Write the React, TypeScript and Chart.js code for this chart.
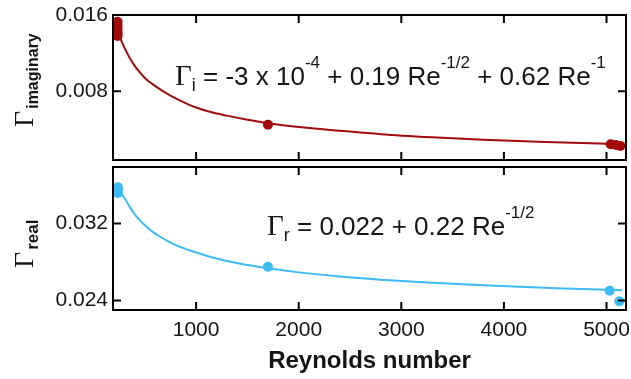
import React, { useEffect, useRef } from "react";
import { Chart, registerables } from "chart.js";

Chart.register(...registerables);

// ---- data ----
const X_TICKS = [1000, 2000, 3000, 4000, 5000];
const IMAG_TICKS = [0.008, 0.016];
const REAL_TICKS = [0.024, 0.032];

const IMAG_RE = [235, 235, 235, 235, 235, 1700, 5040, 5090, 5135];
const IMAG_VALUES = [0.0153, 0.0149, 0.0145, 0.0141, 0.0138, 0.0045, 0.00246, 0.00238, 0.00228];

const REAL_RE = [237, 237, 237, 237, 1700, 5030, 5125];
const REAL_VALUES = [0.0358, 0.0356, 0.0354, 0.0352, 0.0275, 0.025, 0.0239];

const FIT_RE = [250, 275, 300, 350, 400, 450, 500, 575, 650, 750, 850, 1000, 1150, 1300, 1500, 1700, 2000, 2400, 2800, 3300, 3800, 4400, 5000, 5150];
const IMAG_FIT = [0.0138, 0.0132, 0.0126, 0.01155, 0.0107, 0.01, 0.0094, 0.00875, 0.0082, 0.00755, 0.0070, 0.0063, 0.0058, 0.00545, 0.00503, 0.00465, 0.00426, 0.00387, 0.00351, 0.00318, 0.00291, 0.00268, 0.00251, 0.00247];
const REAL_FIT = [0.0355, 0.0351, 0.0347, 0.0338, 0.033, 0.03237, 0.03184, 0.03117, 0.03063, 0.03003, 0.02955, 0.029, 0.02849, 0.0281, 0.02768, 0.02734, 0.02692, 0.02649, 0.02616, 0.02583, 0.02557, 0.02532, 0.0251, 0.02507];

const RED = "#a30a0a";
const BLUE = "#3dbbf5";
const TEXT = "#151515";
const SANS = "'Liberation Sans', Arial, sans-serif";
const SERIF = "'Liberation Serif', 'Times New Roman', serif";

type Part = { t: string; f: string; dy?: number };

function drawRich(ctx: CanvasRenderingContext2D, x: number, y: number, parts: Part[]) {
  ctx.textBaseline = "alphabetic";
  ctx.textAlign = "left";
  let cx = x;
  for (const p of parts) {
    ctx.font = p.f;
    ctx.fillText(p.t, cx, y + (p.dy || 0));
    cx += ctx.measureText(p.t).width;
  }
  return cx;
}

const G = `29px ${SERIF}`;
const M = `26px ${SANS}`;
const S = `17px ${SANS}`;
const SUB = `18px ${SANS}`;

function framePlugin(yTicks: number[]) {
  return {
    id: "frameTicks",
    afterDatasetsDraw(chart: any) {
      const { ctx, chartArea: a, scales } = chart;
      ctx.save();
      ctx.strokeStyle = "#000";
      ctx.lineWidth = 2;
      ctx.strokeRect(a.left, a.top, a.right - a.left, a.bottom - a.top);
      const L = 8;
      ctx.beginPath();
      for (const v of X_TICKS) {
        const px = scales.x.getPixelForValue(v);
        ctx.moveTo(px, a.top);
        ctx.lineTo(px, a.top + L);
        ctx.moveTo(px, a.bottom);
        ctx.lineTo(px, a.bottom - L);
      }
      for (const v of yTicks) {
        const py = scales.y.getPixelForValue(v);
        ctx.moveTo(a.left, py);
        ctx.lineTo(a.left + L, py);
        ctx.moveTo(a.right, py);
        ctx.lineTo(a.right - L, py);
      }
      ctx.stroke();
      ctx.restore();
    },
  };
}

function yTitle(ctx: CanvasRenderingContext2D, x: number, y: number, sub: string, subSize: number) {
  ctx.save();
  ctx.translate(x, y);
  ctx.rotate(-Math.PI / 2);
  ctx.fillStyle = TEXT;
  ctx.textBaseline = "alphabetic";
  ctx.textAlign = "left";
  ctx.font = `28px ${SERIF}`;
  ctx.fillText("Γ", 0, 0);
  const w = ctx.measureText("Γ").width;
  ctx.font = `bold ${subSize}px ${SANS}`;
  ctx.fillText(sub, w + 2, 5);
  ctx.restore();
}

function yScale(min: number, max: number, ticks: number[]) {
  return {
    type: "linear",
    min,
    max,
    afterFit: (s: any) => {
      s.width = 113;
      s.paddingTop = 0;
      s.paddingBottom = 0;
    },
    afterBuildTicks: (s: any) => {
      s.ticks = ticks.map((v) => ({ value: v }));
    },
    grid: { display: false, drawTicks: false },
    border: { display: false },
    ticks: {
      padding: 5,
      color: TEXT,
      font: { family: SANS, size: 21 },
      callback: (v: any) => Number(v).toFixed(3),
    },
  };
}

export default function App() {
  const topRef = useRef<HTMLCanvasElement>(null);
  const botRef = useRef<HTMLCanvasElement>(null);

  useEffect(() => {
    const topChart = new Chart(topRef.current as HTMLCanvasElement, {
      type: "scatter",
      data: {
        datasets: [
          {
            label: "fit",
            data: FIT_RE.map((x, i) => ({ x, y: IMAG_FIT[i] })),
            showLine: true,
            borderColor: RED,
            borderWidth: 2,
            pointRadius: 0,
            cubicInterpolationMode: "monotone",
            clip: false,
            order: 2,
          },
          {
            label: "data",
            data: IMAG_RE.map((x, i) => ({ x, y: IMAG_VALUES[i] })),
            showLine: false,
            backgroundColor: RED,
            borderColor: RED,
            pointRadius: 5,
            pointBorderWidth: 0,
            clip: false,
            order: 1,
          },
        ],
      },
      options: {
        responsive: false,
        animation: false,
        devicePixelRatio: 1,
        layout: { padding: { top: 15, right: 3, bottom: 2, left: 0 } },
        plugins: { legend: { display: false }, tooltip: { enabled: false } },
        scales: {
          x: { type: "linear", display: false, min: 190, max: 5190 },
          y: yScale(0.0008, 0.016, IMAG_TICKS),
        },
      } as any,
      plugins: [
        framePlugin(IMAG_TICKS),
        {
          id: "texts",
          afterDraw(chart: any) {
            const ctx = chart.ctx;
            ctx.save();
            ctx.fillStyle = TEXT;
            drawRich(ctx, 175, 85, [
              { t: "Γ", f: G },
              { t: "i", f: SUB, dy: 6 },
              { t: " = -3 x 10", f: M },
              { t: "-4", f: S, dy: -17 },
              { t: " + 0.19 Re", f: M },
              { t: "-1/2", f: S, dy: -17 },
              { t: " + 0.62 Re", f: M },
              { t: "-1", f: S, dy: -17 },
            ]);
            ctx.restore();
            yTitle(ctx, 33, 127, "imaginary", 16);
          },
        },
      ],
    });

    const botChart = new Chart(botRef.current as HTMLCanvasElement, {
      type: "scatter",
      data: {
        datasets: [
          {
            label: "fit",
            data: FIT_RE.map((x, i) => ({ x, y: REAL_FIT[i] })),
            showLine: true,
            borderColor: BLUE,
            borderWidth: 2,
            pointRadius: 0,
            cubicInterpolationMode: "monotone",
            clip: false,
            order: 2,
          },
          {
            label: "data",
            data: REAL_RE.map((x, i) => ({ x, y: REAL_VALUES[i] })),
            showLine: false,
            backgroundColor: BLUE,
            borderColor: BLUE,
            pointRadius: 5,
            pointBorderWidth: 0,
            clip: false,
            order: 1,
          },
        ],
      },
      options: {
        responsive: false,
        animation: false,
        devicePixelRatio: 1,
        layout: { padding: { top: 1, right: 3, bottom: 0, left: 0 } },
        plugins: { legend: { display: false }, tooltip: { enabled: false } },
        scales: {
          x: {
            type: "linear",
            position: "bottom",
            min: 190,
            max: 5190,
            afterFit: (s: any) => {
              s.height = 69;
              s.paddingLeft = 0;
              s.paddingRight = 0;
            },
            afterBuildTicks: (s: any) => {
              s.ticks = X_TICKS.map((v) => ({ value: v }));
            },
            grid: { display: false, drawTicks: false },
            border: { display: false },
            ticks: {
              padding: 8,
              color: TEXT,
              maxRotation: 0,
              autoSkip: false,
              font: { family: SANS, size: 21 },
              callback: (v: any) => String(v),
            },
            title: {
              display: true,
              text: "Reynolds number",
              color: TEXT,
              font: { family: SANS, size: 24, weight: "bold" },
              padding: { top: 0, bottom: 3 },
            },
          },
          y: yScale(0.023, 0.0379, REAL_TICKS),
        },
      } as any,
      plugins: [
        framePlugin(REAL_TICKS),
        {
          id: "texts",
          afterDraw(chart: any) {
            const ctx = chart.ctx;
            ctx.save();
            ctx.fillStyle = TEXT;
            drawRich(ctx, 267, 73, [
              { t: "Γ", f: G },
              { t: "r", f: SUB, dy: 6 },
              { t: " = 0.022 + 0.22 Re", f: M },
              { t: "-1/2", f: S, dy: -17 },
            ]);
            ctx.restore();
            yTitle(ctx, 33, 106, "real", 17);
          },
        },
      ],
    });

    return () => {
      topChart.destroy();
      botChart.destroy();
    };
  }, []);

  return (
    <div style={{ position: "fixed", left: 0, top: 0, width: 631, height: 379, background: "#fff" }}>
      <canvas
        ref={topRef}
        width={631}
        height={165}
        style={{ position: "absolute", left: 0, top: 0, width: 631, height: 165 }}
      />
      <canvas
        ref={botRef}
        width={631}
        height={217}
        style={{ position: "absolute", left: 0, top: 162, width: 631, height: 217 }}
      />
    </div>
  );
}
